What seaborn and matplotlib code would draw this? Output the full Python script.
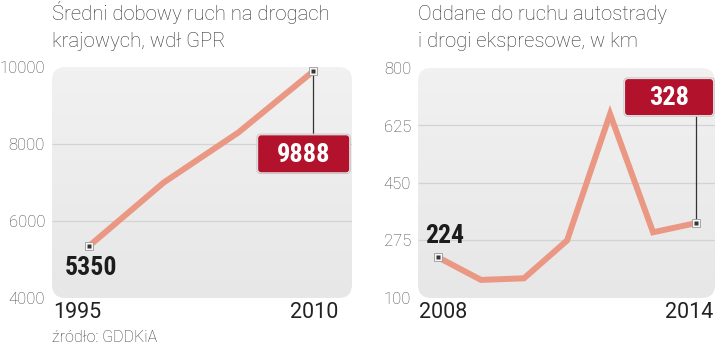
import numpy as np
import matplotlib
matplotlib.use("Agg")
import matplotlib.pyplot as plt
import matplotlib.transforms as mtransforms
from matplotlib.patches import FancyBboxPatch
from matplotlib.colors import LinearSegmentedColormap
from matplotlib import font_manager
import seaborn as sns

# Average daily traffic on national roads (GPR)
traffic_years = [1995, 2000, 2005, 2010]
traffic_values = [5350, 7000, 8300, 9888]
traffic_yticks = [4000, 6000, 8000, 10000]

# Motorways and expressways opened to traffic, km
roads_years = [2008, 2009, 2010, 2011, 2012, 2013, 2014]
roads_km = [224, 155, 160, 275, 660, 300, 328]
roads_yticks = [100, 275, 450, 625, 800]

title_traffic = ["Średni dobowy ruch na drogach", "krajowych, wdł GPR"]
title_roads = ["Oddane do ruchu autostrady", "i drogi ekspresowe, w km"]
source_note = "źródło: GDDKiA"

sns.set_theme(style="white")

installed = {f.name for f in font_manager.fontManager.ttflist}


def pick(*names):
    for n in names:
        if n in installed:
            return n
    return "DejaVu Sans"


LIGHT = pick("Roboto", "Lato", "Open Sans", "Noto Sans")
REGULAR = pick("Roboto", "Noto Sans", "Open Sans")
COND = pick("Roboto Condensed", "Liberation Sans Narrow", "Roboto", "Noto Sans")
plt.rcParams["font.family"] = [LIGHT, "DejaVu Sans"]

LINE_C = "#ea9884"
RED = "#b3122c"
GRID_C = "#d3d3d3"
TICK_C = "#474747"

fig = plt.figure(figsize=(7.2, 3.5), dpi=100)
fig.patch.set_facecolor("white")

bg_cmap = LinearSegmentedColormap.from_list("bg", ["#e7e7e7", "#f1f1f1"])


def panel(rect, years, values, yticks, xlim, xlab_pos):
    ax = fig.add_axes(rect)
    ax.set_xlim(*xlim)
    ax.set_ylim(yticks[0], yticks[-1])
    ax.set_facecolor("none")
    for s in ax.spines.values():
        s.set_visible(False)

    w_px = rect[2] * 720
    h_px = rect[3] * 350
    box = FancyBboxPatch((0, 0), 1, 1, boxstyle="round,pad=0,rounding_size=0.045",
                         mutation_aspect=w_px / h_px, transform=ax.transAxes,
                         facecolor="none", edgecolor="none", zorder=0)
    ax.add_patch(box)
    grad = np.linspace(0, 1, 64).reshape(-1, 1)
    im = ax.imshow(grad, extent=(xlim[0], xlim[1], yticks[0], yticks[-1]),
                   origin="lower", aspect="auto", cmap=bg_cmap, zorder=0)
    im.set_clip_path(box)

    ax.hlines(yticks[1:-1], xlim[0], xlim[1], color=GRID_C, lw=0.9, zorder=1)

    sns.lineplot(x=years, y=values, ax=ax, color=LINE_C, lw=4.3,
                 solid_joinstyle="miter", solid_capstyle="butt", zorder=3)

    ends_x = [years[0], years[-1]]
    ends_y = [values[0], values[-1]]
    ax.plot(ends_x, ends_y, ls="none", marker="s", ms=6.2, mfc="#f6f6f6",
            mec="#9a9a9a", mew=0.6, zorder=5)
    ax.plot(ends_x, ends_y, ls="none", marker="s", ms=3.0, mfc="#353535",
            mec="none", zorder=6)

    ax.set_xticks([])
    ax.set_yticks(yticks)
    ax.set_yticklabels([str(t) for t in yticks])
    ax.tick_params(axis="y", length=0, pad=5, labelsize=12, labelcolor=TICK_C)
    for lab in ax.get_yticklabels():
        lab.set_fontweight("light")

    (lx, lha), (rx, rha) = xlab_pos
    ax.text(lx, -0.087, str(years[0]), transform=ax.transAxes, ha=lha,
            va="baseline", fontsize=15.5, color="#222222", family=[REGULAR, "DejaVu Sans"])
    ax.text(rx, -0.087, str(years[-1]), transform=ax.transAxes, ha=rha,
            va="baseline", fontsize=15.5, color="#222222", family=[REGULAR, "DejaVu Sans"])
    ax.grid(False)
    return ax


def point_frame(ax, x, y):
    # inch-based frame anchored at a data point
    return fig.dpi_scale_trans + mtransforms.ScaledTranslation(x, y, ax.transData)


def value_box(ax, x, y, text, box_xywh, line_to):
    tr = point_frame(ax, x, y)
    ax.plot([0, 0], [0, line_to], color="#333333", lw=0.9, transform=tr,
            zorder=4, clip_on=False)
    bx, by, bw, bh = box_xywh
    shadow = FancyBboxPatch((bx - 0.012, by - 0.012), bw + 0.024, bh + 0.024,
                            boxstyle="round,pad=0,rounding_size=0.04",
                            transform=tr, facecolor="#f4f4f4", edgecolor="#c9c9c9",
                            lw=0.8, zorder=6, clip_on=False)
    ax.add_patch(shadow)
    red = FancyBboxPatch((bx, by), bw, bh, boxstyle="round,pad=0,rounding_size=0.03",
                         transform=tr, facecolor=RED, edgecolor="none",
                         zorder=7, clip_on=False)
    ax.add_patch(red)
    ax.text(bx + bw / 2, by + bh / 2 - 0.01, text, transform=tr, ha="center",
            va="center", color="white", fontsize=19, fontweight="bold",
            family=[COND, "DejaVu Sans"], zorder=8, clip_on=False)


def start_label(ax, x, y, text, dx, dy):
    tr = point_frame(ax, x, y)
    ax.text(dx, dy, text, transform=tr, ha="left", va="center", color="#1c1c1c",
            fontsize=18.5, fontweight="bold", family=[COND, "DejaVu Sans"],
            zorder=8, clip_on=False)


ax1 = panel([52 / 720, 1 - 298 / 350, 300 / 720, 231 / 350],
            traffic_years, traffic_values, traffic_yticks, (1992.52, 2012.6),
            ((0.003, "left"), (0.953, "right")))
ax2 = panel([418 / 720, 1 - 298 / 350, 297 / 720, 230 / 350],
            roads_years, roads_km, roads_yticks, (2007.535, 2014.44),
            ((0.003, "left"), (0.993, "right")))

start_label(ax1, traffic_years[0], traffic_values[0], f"{traffic_values[0]}", -0.24, -0.22)
value_box(ax1, traffic_years[-1], traffic_values[-1], f"{traffic_values[-1]}",
          (-0.55, -1.01, 0.91, 0.37), -0.64)

start_label(ax2, roads_years[0], roads_km[0], f"{roads_km[0]}", -0.13, 0.21)
value_box(ax2, roads_years[-1], roads_km[-1], f"{roads_km[-1]}",
          (-0.71, 1.08, 0.88, 0.36), 1.08)

title_kw = dict(fontsize=14.6, color="#303030", fontweight="light", va="baseline", ha="left")
for i, line in enumerate(title_traffic):
    fig.text(52 / 720, 1 - (20 + 27 * i) / 350, line, **title_kw)
for i, line in enumerate(title_roads):
    fig.text(418 / 720, 1 - (20 + 27 * i) / 350, line, **title_kw)

fig.text(52 / 720, 1 - 342 / 350, source_note, fontsize=11.5, color="#3a3a3a",
         fontweight="light", va="baseline", ha="left")

fig.savefig("out.png", dpi=100, facecolor="white")
